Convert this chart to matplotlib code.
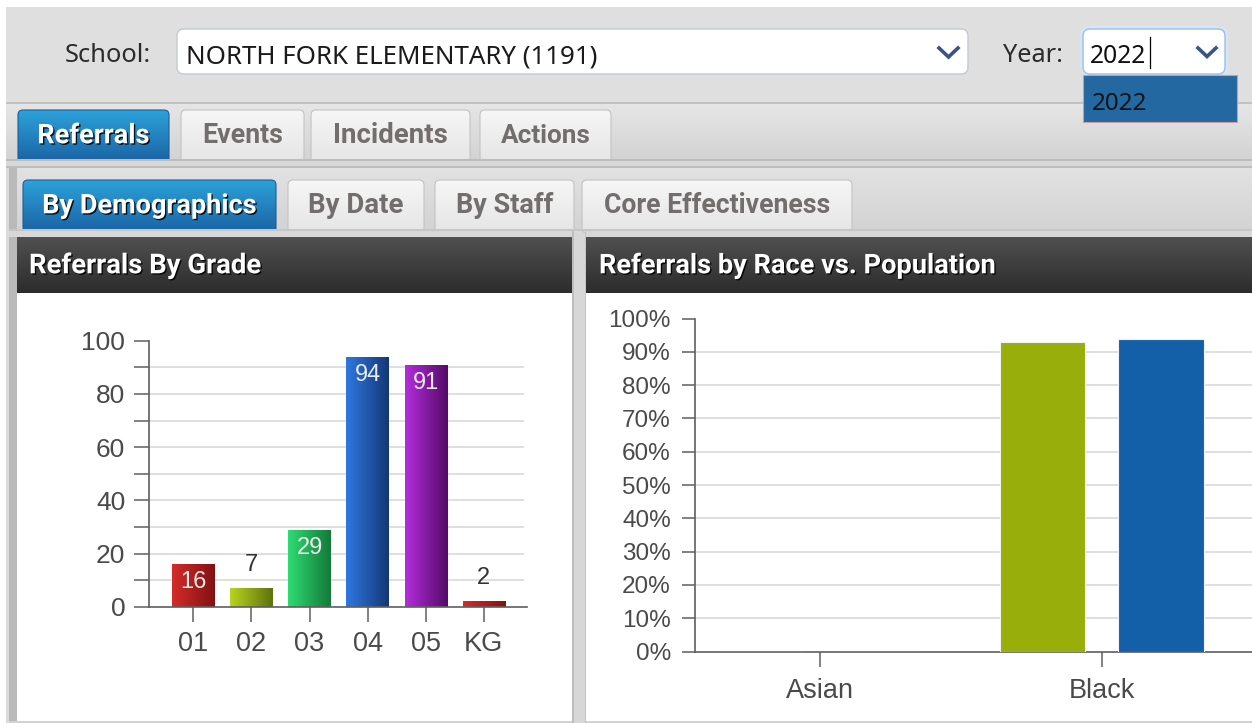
import numpy as np
import matplotlib
matplotlib.use("Agg")
import matplotlib.pyplot as plt
from matplotlib.patches import FancyBboxPatch, Rectangle
from matplotlib.colors import to_rgb
import matplotlib.patheffects as pe

# ---------------- data ----------------
grades = ["01", "02", "03", "04", "05", "KG"]
referrals_by_grade = [16, 7, 29, 94, 91, 2]
grade_colors_light = ["#d42b2b", "#b9d41f", "#2fdb72", "#2f78e0", "#b42ddc", "#d42b2b"]
grade_colors_dark = ["#821212", "#5f720b", "#137a3a", "#143877", "#540a68", "#821212"]

races = ["Asian", "Black"]
referral_pct = [0.0, 92.8]
population_pct = [0.0, 93.9]
race_colors = ["#97ae0b", "#1360a8"]

school_name = "NORTH FORK ELEMENTARY (1191)"
year = "2022"
main_tabs = ["Referrals", "Events", "Incidents", "Actions"]
sub_tabs = ["By Demographics", "By Date", "By Staff", "Core Effectiveness"]

plt.rcParams['font.family'] = ['Liberation Sans', 'DejaVu Sans']

W, H = 1252, 723
fig = plt.figure(figsize=(W / 100, H / 100), dpi=100)
fig.patch.set_facecolor('white')
bg = fig.add_axes([0, 0, 1, 1])
bg.set_xlim(0, W)
bg.set_ylim(H, 0)
bg.axis('off')
renderer = fig.canvas.get_renderer()
UI = 'Noto Sans'
UIB = ['Roboto', 'DejaVu Sans']


def grad_img(ax, x0, y0, x1, y1, c0, c1, clip, z, horizontal=False, inverted=True):
    t = np.linspace(0, 1, 128)
    a = np.array(to_rgb(c0)); b = np.array(to_rgb(c1))
    cols = a[None, :] * (1 - t[:, None]) + b[None, :] * t[:, None]
    arr = cols[None, :, :] if horizontal else cols[:, None, :]
    ext = (x0, x1, y1, y0) if inverted else (x0, x1, y0, y1)
    im = ax.imshow(arr, extent=ext, origin='upper', aspect='auto',
                   interpolation='bilinear', zorder=z)
    im.set_clip_path(clip)
    return im


def box(x0, y0, x1, y1, fc='none', ec='none', lw=0.0, r=0, z=1, grad=None):
    if r > 0:
        p = FancyBboxPatch((x0 + r, y0 + r), x1 - x0 - 2 * r, y1 - y0 - 2 * r,
                           boxstyle=f"round,pad={r}", fc=fc if grad is None else 'none',
                           ec=ec, lw=lw, zorder=z + 0.5)
    else:
        p = Rectangle((x0, y0), x1 - x0, y1 - y0, fc=fc if grad is None else 'none',
                      ec=ec, lw=lw, zorder=z + 0.5)
    bg.add_patch(p)
    if grad is not None:
        grad_img(bg, x0, y0, x1, y1, grad[0], grad[1], p, z)
    return p


def ftext(x, y, s, width, ha='left', **kw):
    t = bg.text(x, y, s, ha=ha, va='baseline', fontsize=10, **kw)
    w = t.get_window_extent(renderer).width
    t.set_fontsize(10 * width / w)
    return t


shadow = [pe.withSimplePatchShadow(offset=(1, -1), shadow_rgbFace='black', alpha=0.85)]

# ---------------- page background ----------------
box(6, 7, W, 102, fc='#dfdfdf', z=0)
box(6, 102, W, 103.5, fc='#c2c2c2', z=0.2)
box(6, 103.5, W, 160, grad=('#e6e6e6', '#d3d3d3'), z=0.2)
box(6, 159, W, 161, fc='#bcbcbc', z=0.3)
box(6, 161, W, 166, fc='#d8d8d8', z=0.3)
box(6, 166, W, 168, fc='#bdbdbd', z=0.3)
box(6, 168, W, 230, grad=('#e2e2e2', '#d3d3d3'), z=0.2)
box(9, 229, W, 231, fc='#c6c6c6', z=0.3)
box(9, 231, W, 237, fc='#d8d8d8', z=0.3)
box(6, 168, 9, H, fc='#dadada', z=0.4)
box(9, 168, 17, H, fc='#b9b9b9', z=0.4)
box(17, 237, 572, 293, grad=('#505050', '#2c2c2c'), z=0.5)
box(586, 237, W, 293, grad=('#505050', '#2c2c2c'), z=0.5)
box(17, 293, 572, 721, fc='white', z=0.5)
box(586, 293, W, 721, fc='white', z=0.5)
box(9, 721, W, H, fc='#d2d2d2', z=0.5)
box(572, 231, 586, H, fc='#d7d7d7', z=0.5)
box(572, 231, 573.5, H, fc='#bdbdbd', z=0.6)
box(584.5, 231, 586, H, fc='#c4c4c4', z=0.6)

# ---------------- selectors ----------------
ftext(65, 62, "School:", 86, color='#2b2b2b', family=UI)
box(177, 29, 968, 74, fc='white', ec='#c3c9d6', lw=1, r=7, z=2)
ftext(186, 63, school_name, 413, color='#1a1a1a', family=UI, zorder=5)
bg.plot([939, 948.5, 958], [48, 57, 48], color='#3a5488', lw=2.6,
        solid_joinstyle='miter', zorder=5)

ftext(1003, 62, "Year:", 60, color='#2b2b2b', family=UI)
box(1082, 28, 1226, 75, fc='none', ec='#d6e6f7', lw=2.5, r=8, z=1.8)
box(1083, 29, 1225, 74, fc='white', ec='#9fc3e8', lw=1.1, r=7, z=2)
box(1190, 31, 1223, 72, grad=('#ffffff', '#eef3f9'), z=2.2)
ftext(1090, 63.3, year, 56, color='#111111', family=UI, zorder=5)
bg.plot([1150, 1150], [37, 68], color='black', lw=0.9, zorder=5)
bg.plot([1198, 1207, 1216], [48, 56.5, 48], color='#3a5488', lw=2.6,
        solid_joinstyle='miter', zorder=5)
box(1083, 75, 1237, 122, fc='#2368a1', ec='#cf9c9c', lw=0.8, z=3)
ftext(1092, 110, year, 55, color='#101418', family=UI, zorder=5)

# ---------------- tabs ----------------
tab1_pos = [(18, 169), (181, 304), (311, 470), (480, 611)]
tab1_w = [112, 81, 115, 90]
tab2_pos = [(23, 276), (288, 424), (435, 574), (582, 852)]
tab2_w = [215, 96, 98, 227]


def draw_tabs(names, pos, widths, y0, y1, base):
    for i, (name, (a, b), w) in enumerate(zip(names, pos, widths)):
        if i == 0:
            box(a, y0, b, y1 + 4, grad=('#2ca2da', '#1a62a3'), ec='#1b5f98', lw=0.8, r=5, z=1)
            ftext((a + b) / 2, base, name, w, ha='center', color='white',
                  weight='bold', family=UIB, path_effects=shadow, zorder=5)
        else:
            box(a, y0, b, y1 + 4, grad=('#f6f6f6', '#e5e5e5'), ec='#c3c3c3', lw=0.8, r=5, z=1)
            ftext((a + b) / 2, base, name, w, ha='center', color='#736e6e',
                  weight='bold', family=UIB, zorder=5)


draw_tabs(main_tabs, tab1_pos, tab1_w, 110, 159, 143.3)
box(6, 159, W, 161, fc='#bcbcbc', z=1.7)
box(6, 161, W, 166, fc='#d8d8d8', z=1.7)
draw_tabs(sub_tabs, tab2_pos, tab2_w, 180, 229, 213.3)
box(9, 229, W, 231, fc='#c6c6c6', z=1.7)
box(9, 231, 572, 237, fc='#d8d8d8', z=1.7)
box(586, 231, W, 237, fc='#d8d8d8', z=1.7)

ftext(29, 273.3, "Referrals By Grade", 232, color='white', weight='bold',
      family=UIB, path_effects=shadow, zorder=5)
ftext(599, 273.3, "Referrals by Race vs. Population", 397, color='white',
      weight='bold', family=UIB, path_effects=shadow, zorder=5)

AXC = '#5f5f5f'
LBC = '#4a4a4a'
GRC = '#d9d9d9'


def px_rect(L, R, T, B):
    return [L / W, 1 - B / H, (R - L) / W, (B - T) / H]


# ---------------- left chart ----------------
ax = fig.add_axes(px_rect(149.3, 527, 340.7, 606.7))
ax.set_facecolor('none')
x = np.arange(len(grades))
bars = ax.bar(x, referrals_by_grade, 0.728, color='none', zorder=3)
for rect, c0, c1 in zip(bars.patches, grade_colors_light, grade_colors_dark):
    x0 = rect.get_x(); w = rect.get_width(); h = rect.get_height()
    grad_img(ax, x0, 0, x0 + w, h, c0, c1, rect, 2.5, horizontal=True, inverted=False)
for xi, v in zip(x, referrals_by_grade):
    if v >= 10:
        ax.annotate(str(v), (xi, v), xytext=(0, -13), textcoords='offset points',
                    ha='center', va='center', color='#ebebeb', fontsize=17, zorder=6)
    else:
        ax.annotate(str(v), (xi, v), xytext=(0, 16.5), textcoords='offset points',
                    ha='center', va='center', color='#333333', fontsize=17, zorder=6)
ax.set_xlim(-0.757, 5.743)
ax.set_ylim(0, 100)
ax.set_xticks(x)
ax.set_xticklabels(grades)
ax.set_yticks(np.arange(0, 101, 20))
ax.set_yticks(np.arange(10, 100, 20), minor=True)
ax.hlines(np.arange(10, 100, 10), 0, 0.992, transform=ax.get_yaxis_transform(),
          color=GRC, lw=1.2, zorder=1)
for s in ['top', 'right']:
    ax.spines[s].set_visible(False)
for s in ['left', 'bottom']:
    ax.spines[s].set_color(AXC)
    ax.spines[s].set_linewidth(1.2)
ax.tick_params(axis='y', which='both', length=10.8, width=1.1, color=AXC,
               pad=6.5, labelsize=19, labelcolor=LBC)
ax.tick_params(axis='x', length=10.8, width=1.1, color=AXC, pad=7,
               labelsize=19.5, labelcolor=LBC)

# ---------------- right chart ----------------
ax2 = fig.add_axes(px_rect(695, W, 318.5, 651.5))
ax2.set_facecolor('none')
xr = np.arange(len(races))
ax2.bar(xr - 0.2095, referral_pct, 0.302, color=race_colors[0], edgecolor='#f2f2f2',
        lw=0.8, zorder=3)
ax2.bar(xr + 0.2105, population_pct, 0.302, color=race_colors[1], edgecolor='#f2f2f2',
        lw=0.8, zorder=3)
ax2.set_xlim(-0.4437, 1.5335)
ax2.set_ylim(0, 100)
ax2.set_xticks(xr)
ax2.set_xticklabels(races)
yt = np.arange(0, 101, 10)
ax2.set_yticks(yt)
ax2.set_yticklabels([f"{v}%" for v in yt])
ax2.hlines(np.arange(10, 100, 10), 0, 1, transform=ax2.get_yaxis_transform(),
           color=GRC, lw=1.2, zorder=1)
for s in ['top', 'right']:
    ax2.spines[s].set_visible(False)
for s in ['left', 'bottom']:
    ax2.spines[s].set_color(AXC)
    ax2.spines[s].set_linewidth(1.2)
ax2.tick_params(axis='y', length=9.4, width=1.1, color=AXC, pad=8,
                labelsize=17.5, labelcolor=LBC)
ax2.tick_params(axis='x', length=10.8, width=1.1, color=AXC, pad=8,
                labelsize=19.5, labelcolor=LBC)

fig.savefig("out.png", dpi=100, facecolor=fig.get_facecolor())
